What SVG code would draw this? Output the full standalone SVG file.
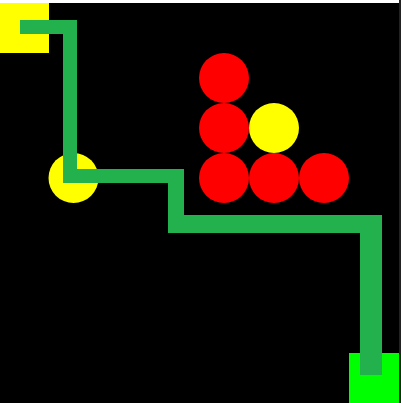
<svg xmlns="http://www.w3.org/2000/svg" width="401" height="403" viewBox="0 0 401 403">
<style>
.red{fill:#ff0000}
.yel{fill:#ffff00}
</style>
<rect x="0" y="0" width="401" height="403" fill="#000000"/>
<rect x="0" y="0" width="401" height="3" fill="#ffffff"/>
<rect x="399" y="0" width="2" height="403" fill="#222222"/>
<g id="start"><rect x="0" y="3" width="49" height="50" class="yel"/></g>
<g id="goal"><rect x="349" y="353" width="50" height="50" fill="#00ff00"/></g>
<g id="yellow-left"><circle cx="73.5" cy="178" r="25" class="yel"/></g>
<g id="red1"><circle cx="224" cy="78" r="25" class="red"/></g>
<g id="red2"><circle cx="224" cy="128" r="25" class="red"/></g>
<g id="yellow-mid"><circle cx="274" cy="128" r="25" class="yel"/></g>
<g id="red3"><circle cx="224" cy="178" r="25" class="red"/></g>
<g id="red4"><circle cx="274" cy="178" r="25" class="red"/></g>
<g id="red5"><circle cx="324" cy="178" r="25" class="red"/></g>
<g id="connectors">
<polygon points="20,20 77,20 77,169 184,169 184,215 382,215 382,375 360,375 360,233 168,233 168,183 63,183 63,34 20,34" fill="#22b14c"/>
</g>
</svg>
